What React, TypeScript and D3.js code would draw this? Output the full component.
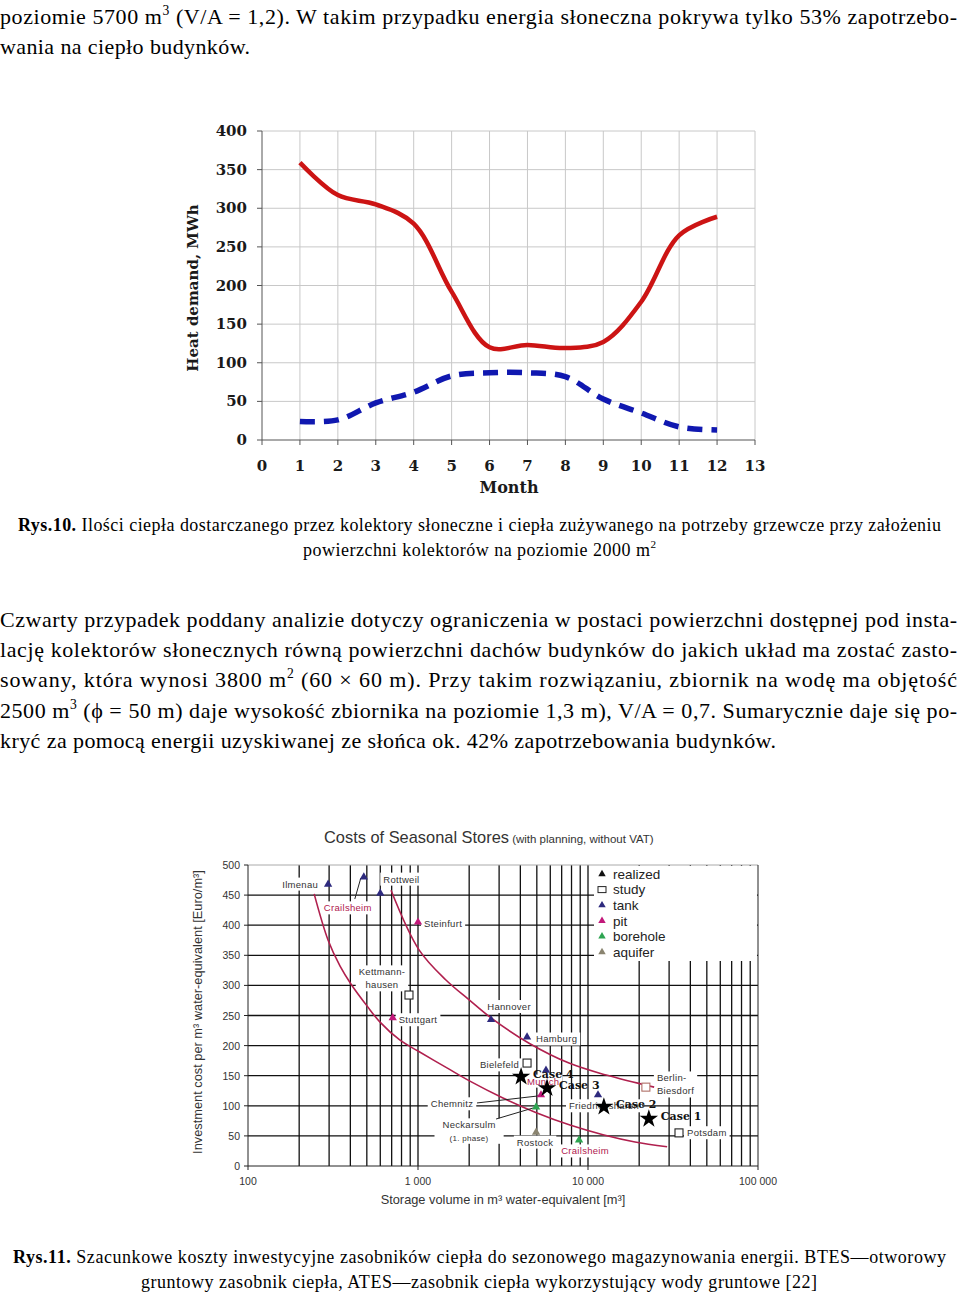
import React, { Component } from "react";
import * as d3 from "d3";

// Rys.10 - monthly heat demand vs heat from solar collectors
const months = [1, 2, 3, 4, 5, 6, 7, 8, 9, 10, 11, 12];
const heatDemand = [359, 317, 305, 280, 192, 120, 123, 119, 127, 179, 265, 289];
const solarHeat = [24, 26, 48, 62, 83, 87, 87, 82, 53, 35, 17, 13];
const monthTicks = [0, 1, 2, 3, 4, 5, 6, 7, 8, 9, 10, 11, 12, 13];
const demandTicks = [0, 50, 100, 150, 200, 250, 300, 350, 400];

// Rys.11 - costs of seasonal stores
const siteNames = ["Ilmenau", "Crailsheim", "Rottweil", "Steinfurt", "Kettmann-|hausen", "Stuttgart", "Hannover", "Hamburg", "Bielefeld", "Munich", "Chemnitz", "Neckarsulm|(1. phase)", "Rostock", "Friedrichshafen", "Berlin-|Biesdorf", "Potsdam", "Crailsheim"];
const siteVolumes = [296, 480, 600, 1000, 885, 710, 2690, 4380, 4380, 5660, 5290, 4950, 4950, 11450, 21900, 34300, 8860];
const siteCosts = [468, 480, 453, 405, 284, 246, 243, 214, 171, 159, 118, 98, 56, 118, 131, 55, 43];
const siteStatus = ["realized", "realized", "realized", "realized", "study", "realized", "realized", "realized", "study", "realized", "realized", "realized", "realized", "realized", "study", "study", "realized"];
const siteTypes = ["tank", "tank", "tank", "pit", "tank", "pit", "tank", "tank", "tank", "tank", "pit", "borehole", "aquifer", "tank", "pit", "tank", "borehole"];

const caseNames = ["Case 1", "Case 2", "Case 3", "Case 4"];
const caseVolumes = [22800, 12400, 5740, 4040];
const caseCosts = [80, 100, 131, 150];

const lowCurveVolumes = [245, 296, 348, 404, 501, 598, 784, 1000, 1480, 2020, 3160, 5010, 7830, 12250, 18900, 29200];
const lowCurveCosts = [452, 375, 332, 302, 266, 239, 209, 191, 163, 141, 113, 88, 68, 52, 40, 32];
const highCurveVolumes = [694, 1014, 1460, 2000, 2690, 4500, 7730, 12800, 24500];
const highCurveCosts = [458, 359, 309, 276, 246, 204, 171, 151, 131];

const costTicks = [0, 50, 100, 150, 200, 250, 300, 350, 400, 450, 500];
const volumeTicks = [100, 1000, 10000, 100000];
const volumeTickLabels = ["100", "1 000", "10 000", "100 000"];
const legendItems = ["realized", "study", "tank", "pit", "borehole", "aquifer"];

const typeColor = {
  realized: "#111",
  study: "#111",
  tank: "#2e2a7e",
  pit: "#c2187a",
  borehole: "#2ea451",
  aquifer: "#8a8470"
};

// label placement relative to each site marker: dx, dy, anchor, colour, leader end
const siteLabelLayout = [
  { dx: -10, dy: 0, a: "end" },
  { dx: -16, dy: 31, a: "middle", c: "#b0204e", lead: [-9, 22] },
  { dx: 3, dy: -14, a: "start" },
  { dx: 6, dy: 1, a: "start" },
  { dx: -27, dy: -23, a: "middle" },
  { dx: 6, dy: 2, a: "start" },
  { dx: 18, dy: -13, a: "middle" },
  { dx: 9, dy: 2, a: "start" },
  { dx: -8, dy: 2, a: "end" },
  { dx: -19, dy: 11, a: "start", c: "#b0204e" },
  { dx: -89, dy: 9, a: "middle", lead: [-64, 8] },
  { dx: -67, dy: 18, a: "middle", lead: [-40, 12] },
  { dx: -1, dy: 10, a: "middle" },
  { dx: -29, dy: 11, a: "start" },
  { dx: 11, dy: -9, a: "start" },
  { dx: 8, dy: 0, a: "start" },
  { dx: 6, dy: 11, a: "middle", c: "#b0204e" }
];

// page text
const topLines = [
  { y: 24, x: 0, w: 957, parts: [["poziomie 5700 m"], ["3", "sup"], [" (V/A = 1,2). W takim przypadku energia słoneczna pokrywa tylko 53% zapotrzebo-"]] },
  { y: 54, x: 0, w: 250, parts: [["wania na ciepło budynków."]] }
];
const caption10 = [
  { y: 531, x: 18, w: 923, parts: [["Rys.10.", "b"], [" Ilości ciepła dostarczanego przez kolektory słoneczne i ciepła zużywanego na potrzeby grzewcze przy założeniu"]] },
  { y: 556, x: 303, w: 353, parts: [["powierzchni kolektorów na poziomie 2000 m"], ["2", "sup"]] }
];
const paragraph = [
  { y: 627, x: 0, w: 957, parts: [["Czwarty przypadek poddany analizie dotyczy ograniczenia w postaci powierzchni dostępnej pod insta-"]] },
  { y: 657, x: 0, w: 957, parts: [["lację kolektorów słonecznych równą powierzchni dachów budynków do jakich układ ma zostać zasto-"]] },
  { y: 687, x: 0, w: 957, parts: [["sowany, która wynosi 3800 m"], ["2", "sup"], [" (60 × 60 m). Przy takim rozwiązaniu, zbiornik na wodę ma objętość"]] },
  { y: 718, x: 0, w: 957, parts: [["2500 m"], ["3", "sup"], [" (ϕ = 50 m) daje wysokość zbiornika na poziomie 1,3 m), V/A = 0,7. Sumarycznie daje się po-"]] },
  { y: 748, x: 0, w: 776, parts: [["kryć za pomocą energii uzyskiwanej ze słońca ok. 42% zapotrzebowania budynków."]] }
];
const caption11 = [
  { y: 1263, x: 13, w: 933, parts: [["Rys.11.", "b"], [" Szacunkowe koszty inwestycyjne zasobników  ciepła do sezonowego magazynowania energii. BTES—otworowy"]] },
  { y: 1288, x: 141, w: 676, parts: [["gruntowy zasobnik ciepła, ATES—zasobnik ciepła wykorzystujący wody gruntowe [22]"]] }
];

class App extends Component {
  svgRef = React.createRef<SVGSVGElement>();

  componentDidMount() {
    const svg = d3.select(this.svgRef.current);
    svg.selectAll("*").remove();
    this.drawText(svg);
    this.drawDemandChart(svg);
    this.drawCostChart(svg);
  }

  drawText(svg) {
    const writeLines = (lines, size) => {
      lines.forEach(line => {
        const t = svg
          .append("text")
          .attr("x", line.x)
          .attr("y", line.y)
          .attr("font-family", "'Liberation Serif', 'Times New Roman', serif")
          .attr("font-size", size)
          .attr("fill", "#000")
          .attr("textLength", line.w)
          .attr("lengthAdjust", "spacing");
        let raised = false;
        line.parts.forEach(p => {
          const s = t.append("tspan").text(p[0]);
          if (p[1] === "b") s.attr("font-weight", "bold");
          if (p[1] === "sup") {
            s.attr("font-size", size * 0.62).attr("dy", -size * 0.42);
            raised = true;
          } else if (raised) {
            s.attr("dy", size * 0.42);
            raised = false;
          }
        });
      });
    };
    writeLines(topLines, 22);
    writeLines(caption10, 18);
    writeLines(paragraph, 22);
    writeLines(caption11, 18);
  }

  drawDemandChart(svg) {
    const x = d3.scaleLinear().domain([0, 13]).range([262, 755]);
    const y = d3.scaleLinear().domain([0, 400]).range([440, 131]);
    const g = svg.append("g");
    const font = "'DejaVu Serif', Georgia, serif";

    g.append("g")
      .selectAll("line")
      .data(monthTicks.slice(1))
      .join("line")
      .attr("x1", d => x(d))
      .attr("x2", d => x(d))
      .attr("y1", y(0))
      .attr("y2", y(400))
      .attr("stroke", "#c8c8c8");
    g.append("g")
      .selectAll("line")
      .data(demandTicks.slice(1))
      .join("line")
      .attr("x1", x(0))
      .attr("x2", x(13))
      .attr("y1", d => y(d))
      .attr("y2", d => y(d))
      .attr("stroke", "#c8c8c8");

    // axes
    g.append("line").attr("x1", x(0)).attr("x2", x(0)).attr("y1", y(0)).attr("y2", y(400)).attr("stroke", "#555");
    g.append("line").attr("x1", x(0)).attr("x2", x(13)).attr("y1", y(0)).attr("y2", y(0)).attr("stroke", "#555");
    g.append("g")
      .selectAll("line")
      .data(monthTicks)
      .join("line")
      .attr("x1", d => x(d))
      .attr("x2", d => x(d))
      .attr("y1", y(0))
      .attr("y2", y(0) + 5)
      .attr("stroke", "#555");
    g.append("g")
      .selectAll("line")
      .data(demandTicks)
      .join("line")
      .attr("x1", x(0) - 5)
      .attr("x2", x(0))
      .attr("y1", d => y(d))
      .attr("y2", d => y(d))
      .attr("stroke", "#555");

    g.append("g")
      .attr("font-family", font)
      .attr("font-weight", "bold")
      .attr("font-size", 15)
      .attr("fill", "#1a1a1a")
      .attr("text-anchor", "end")
      .selectAll("text")
      .data(demandTicks)
      .join("text")
      .attr("x", x(0) - 15)
      .attr("y", d => y(d) + 5)
      .text(d => d);
    g.append("g")
      .attr("font-family", font)
      .attr("font-weight", "bold")
      .attr("font-size", 15)
      .attr("fill", "#1a1a1a")
      .attr("text-anchor", "middle")
      .selectAll("text")
      .data(monthTicks)
      .join("text")
      .attr("x", d => x(d))
      .attr("y", 471)
      .text(d => d);
    g.append("text")
      .attr("x", 509)
      .attr("y", 493)
      .attr("text-anchor", "middle")
      .attr("font-family", font)
      .attr("font-weight", "bold")
      .attr("font-size", 16)
      .attr("fill", "#1a1a1a")
      .text("Month");
    g.append("text")
      .attr("transform", "translate(198,288) rotate(-90)")
      .attr("text-anchor", "middle")
      .attr("font-family", font)
      .attr("font-weight", "bold")
      .attr("font-size", 15)
      .attr("fill", "#1a1a1a")
      .text("Heat demand, MWh");

    const line = d3
      .line<number>()
      .x((d, i) => x(months[i]))
      .y(d => y(d))
      .curve(d3.curveCatmullRom.alpha(0.5));

    g.append("path")
      .attr("d", line(heatDemand))
      .attr("fill", "none")
      .attr("stroke", "#cc1414")
      .attr("stroke-width", 4.5)
      .attr("stroke-linejoin", "round");
    g.append("path")
      .attr("d", line(solarHeat))
      .attr("fill", "none")
      .attr("stroke", "#1018b0")
      .attr("stroke-width", 5.5)
      .attr("stroke-dasharray", "15 9");
  }

  drawCostChart(svg) {
    const x = d3.scaleLog().domain([100, 100000]).range([248, 758]);
    const y = d3.scaleLinear().domain([0, 500]).range([1166, 865]);
    const g = svg.append("g").attr("font-family", "'Liberation Sans', Arial, sans-serif");

    // title
    const title = g.append("text").attr("x", 324).attr("y", 843).attr("fill", "#333");
    title.append("tspan").attr("font-size", 16.4).text("Costs of Seasonal Stores");
    title.append("tspan").attr("font-size", 11.5).text(" (with planning, without VAT)");

    // grid
    g.append("g")
      .selectAll("line")
      .data(x.ticks().filter(d => d > 100 && d < 100000))
      .join("line")
      .attr("x1", d => x(d))
      .attr("x2", d => x(d))
      .attr("y1", y(0))
      .attr("y2", y(500))
      .attr("stroke", "#111")
      .attr("stroke-width", 1.3);
    g.append("g")
      .selectAll("line")
      .data(costTicks.filter(d => d > 0 && d < 500))
      .join("line")
      .attr("x1", x(100))
      .attr("x2", x(100000))
      .attr("y1", d => y(d))
      .attr("y2", d => y(d))
      .attr("stroke", "#111")
      .attr("stroke-width", 1.3);
    g.append("line").attr("x1", x(100)).attr("x2", x(100000)).attr("y1", y(500)).attr("y2", y(500)).attr("stroke", "#aaa");
    g.append("line").attr("x1", x(100)).attr("x2", x(100)).attr("y1", y(0)).attr("y2", y(500)).attr("stroke", "#222");
    g.append("line").attr("x1", x(100000)).attr("x2", x(100000)).attr("y1", y(0)).attr("y2", y(500)).attr("stroke", "#222");
    g.append("line").attr("x1", x(100)).attr("x2", x(100000)).attr("y1", y(0)).attr("y2", y(0)).attr("stroke", "#222");
    g.append("g")
      .selectAll("line")
      .data(costTicks)
      .join("line")
      .attr("x1", x(100) - 4)
      .attr("x2", x(100))
      .attr("y1", d => y(d))
      .attr("y2", d => y(d))
      .attr("stroke", "#222");
    g.append("g")
      .selectAll("line")
      .data(volumeTicks)
      .join("line")
      .attr("x1", d => x(d))
      .attr("x2", d => x(d))
      .attr("y1", y(0))
      .attr("y2", y(0) + 4)
      .attr("stroke", "#222");

    // tick labels
    g.append("g")
      .attr("font-size", 10.5)
      .attr("fill", "#333")
      .attr("text-anchor", "end")
      .selectAll("text")
      .data(costTicks)
      .join("text")
      .attr("x", x(100) - 8)
      .attr("y", d => y(d) + 4)
      .text(d => d);
    g.append("g")
      .attr("font-size", 10.5)
      .attr("fill", "#333")
      .attr("text-anchor", "middle")
      .selectAll("text")
      .data(volumeTicks)
      .join("text")
      .attr("x", d => x(d))
      .attr("y", 1185)
      .text((d, i) => volumeTickLabels[i]);

    g.append("text")
      .attr("x", 503)
      .attr("y", 1204)
      .attr("text-anchor", "middle")
      .attr("font-size", 12.8)
      .attr("fill", "#333")
      .text("Storage volume in m³ water-equivalent [m³]");
    g.append("text")
      .attr("transform", "translate(202,1012) rotate(-90)")
      .attr("text-anchor", "middle")
      .attr("font-size", 12.8)
      .attr("fill", "#333")
      .text("Investment cost per m³ water-equivalent [Euro/m³]");

    // legend
    g.append("rect").attr("x", 594).attr("y", 866).attr("width", 163).attr("height", 95).attr("fill", "#fff");
    const lg = g
      .append("g")
      .selectAll("g")
      .data(legendItems)
      .join("g")
      .attr("transform", (d, i) => `translate(602,${874 + i * 15.6})`);
    lg.filter(d => d !== "study")
      .append("path")
      .attr("d", d3.symbol(d3.symbolTriangle, 24))
      .attr("fill", d => typeColor[d]);
    lg.filter(d => d === "study")
      .append("rect")
      .attr("x", -4)
      .attr("y", -3)
      .attr("width", 8)
      .attr("height", 6)
      .attr("fill", "#fff")
      .attr("stroke", "#222");
    lg.append("text")
      .attr("x", 11)
      .attr("dy", "0.36em")
      .attr("font-size", 13.5)
      .attr("fill", "#222")
      .text(d => d);

    // site labels with white boxes
    const labels = g.append("g").attr("font-size", 9.5).attr("letter-spacing", 0.3);
    siteNames.forEach((name, i) => {
      const L = siteLabelLayout[i];
      const px = x(siteVolumes[i]) + L.dx;
      const py = y(siteCosts[i]) + L.dy;
      const grp = labels.append("g");
      const t = grp
        .append("text")
        .attr("text-anchor", L.a)
        .attr("fill", L.c || "#333");
      name.split("|").forEach((part, k) => {
        const s = t
          .append("tspan")
          .attr("x", px)
          .attr("y", py + k * 13)
          .attr("dy", "0.35em")
          .text(part);
        if (k > 0 && part.startsWith("(")) s.attr("font-size", 8);
      });
      const bb = (t.node() as SVGTextElement).getBBox();
      const padX = name.startsWith("Neckarsulm") ? 8 : 3;
      grp
        .insert("rect", "text")
        .attr("x", bb.x - padX)
        .attr("y", bb.y - 1)
        .attr("width", bb.width + padX * 2)
        .attr("height", bb.height + 2)
        .attr("fill", "#fff");
    });

    // cost curves
    const curve = d3.line<number>().curve(d3.curveCatmullRom.alpha(0.5));
    g.append("path")
      .attr("d", curve.x((d, i) => x(lowCurveVolumes[i])).y(d => y(d))(lowCurveCosts))
      .attr("fill", "none")
      .attr("stroke", "#b0204e")
      .attr("stroke-width", 1.6);
    g.append("path")
      .attr("d", curve.x((d, i) => x(highCurveVolumes[i])).y(d => y(d))(highCurveCosts))
      .attr("fill", "none")
      .attr("stroke", "#b0204e")
      .attr("stroke-width", 1.6);

    // leader lines
    siteNames.forEach((name, i) => {
      const L = siteLabelLayout[i];
      if (!L.lead) return;
      const mx = x(siteVolumes[i]);
      const my = y(siteCosts[i]);
      g.append("line")
        .attr("x1", mx + L.lead[0])
        .attr("y1", my + L.lead[1])
        .attr("x2", mx - 3)
        .attr("y2", my + 1)
        .attr("stroke", "#222")
        .attr("stroke-width", 1);
    });

    // site markers
    siteNames.forEach((name, i) => {
      const mx = x(siteVolumes[i]);
      const my = y(siteCosts[i]);
      if (siteStatus[i] === "study") {
        g.append("rect")
          .attr("x", mx - 4)
          .attr("y", my - 4)
          .attr("width", 8)
          .attr("height", 8)
          .attr("fill", "#fff")
          .attr("stroke", siteTypes[i] === "pit" ? "#b07068" : "#222")
          .attr("stroke-width", 1.1);
      } else {
        g.append("path")
          .attr("transform", `translate(${mx},${my})`)
          .attr("d", d3.symbol(d3.symbolTriangle, 30))
          .attr("fill", typeColor[siteTypes[i]]);
      }
    });

    // cases
    caseNames.forEach((name, i) => {
      const cx = x(caseVolumes[i]);
      const cy = y(caseCosts[i]);
      g.append("path")
        .attr("transform", `translate(${cx},${cy + 1})`)
        .attr("d", d3.symbol(d3.symbolStar, 105))
        .attr("fill", "#000");
      g.append("text")
        .attr("x", cx + 12)
        .attr("y", cy - 2)
        .attr("dy", "0.35em")
        .attr("font-family", "'DejaVu Serif', serif")
        .attr("font-weight", "bold")
        .attr("font-size", 11)
        .attr("fill", "#111")
        .text(name);
    });
  }

  render() {
    return (
      <svg
        ref={this.svgRef}
        width={960}
        height={1293}
        style={{ position: "absolute", left: 0, top: 0, background: "#fff", display: "block" }}
      />
    );
  }
}

export default App;
